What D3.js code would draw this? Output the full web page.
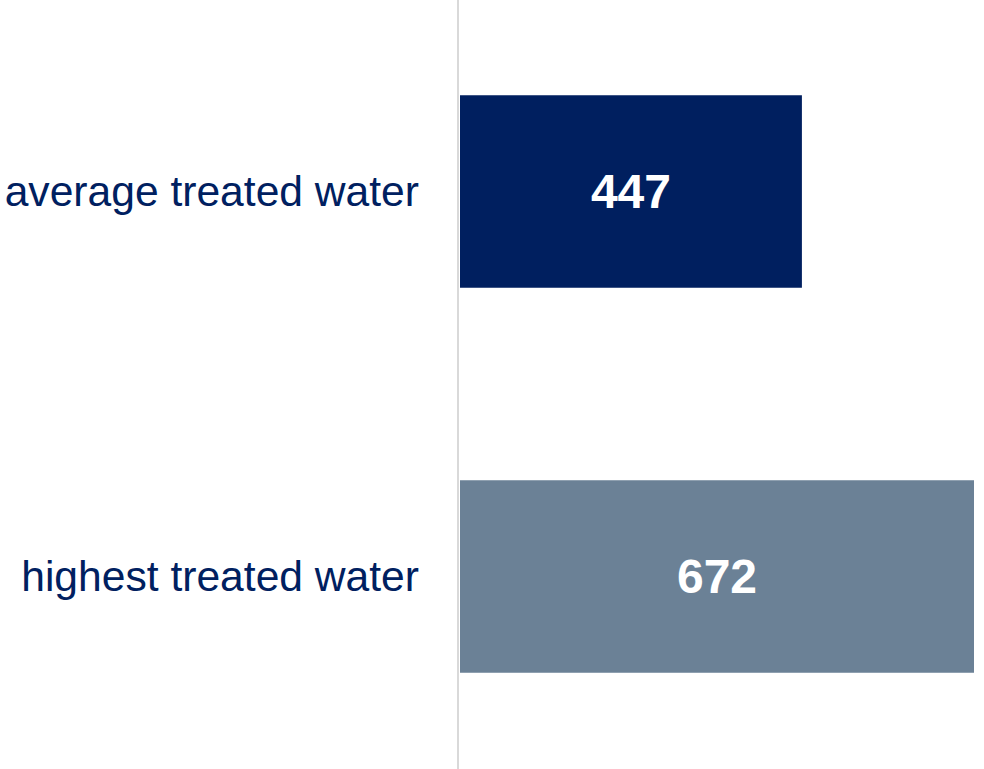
<!DOCTYPE html>
<meta charset="utf-8">
<style>
    body { margin: 0; background: #fff; }
    .cat { font-family: Arial, "Liberation Sans", sans-serif; font-size: 42.6px; fill: #002060; }
    .val { font-family: Arial, "Liberation Sans", sans-serif; font-size: 48px; font-weight: bold; fill: #fff; }
</style>

<svg width="984" height="769"></svg>

<script src="https://d3js.org/d3.v7.min.js"></script>

<script>
var categories = ["average treated water", "highest treated water"];
var values = [447, 672];
var colors = ["#001f5f", "#6b8196"];

var svg = d3.select("svg");
var x0 = 460;

var x = d3.scaleLinear()
    .domain([0, 672])
    .range([x0, 974]);

var y = d3.scaleBand()
    .domain(categories)
    .range([-1, 769])
    .paddingInner(0.5)
    .paddingOuter(0.25);

// bars
svg.append('g')
    .selectAll('rect')
    .data(values)
    .enter()
    .append('rect')
    .attr('x', x(0))
    .attr('y', function(d, i) { return y(categories[i]); })
    .attr('width', function(d) { return x(d) - x(0); })
    .attr('height', y.bandwidth())
    .attr('fill', function(d, i) { return colors[i]; });

// axis line
svg.append('line')
    .attr('x1', x0 - 2).attr('x2', x0 - 2)
    .attr('y1', 0).attr('y2', 769)
    .attr('stroke', '#d9d9d9')
    .attr('stroke-width', 2);

// category labels
svg.append('g')
    .selectAll('text')
    .data(categories)
    .enter()
    .append('text')
    .attr('class', 'cat')
    .attr('x', x0 - 41)
    .attr('y', function(d) { return y(d) + y.bandwidth() / 2; })
    .attr('dy', '0.35em')
    .attr('text-anchor', 'end')
    .text(function(d) { return d; });

// value labels
svg.append('g')
    .selectAll('text')
    .data(values)
    .enter()
    .append('text')
    .attr('class', 'val')
    .attr('x', function(d) { return (x(0) + x(d)) / 2; })
    .attr('y', function(d, i) { return y(categories[i]) + y.bandwidth() / 2; })
    .attr('dy', '0.35em')
    .attr('text-anchor', 'middle')
    .text(function(d) { return d; });
</script>
